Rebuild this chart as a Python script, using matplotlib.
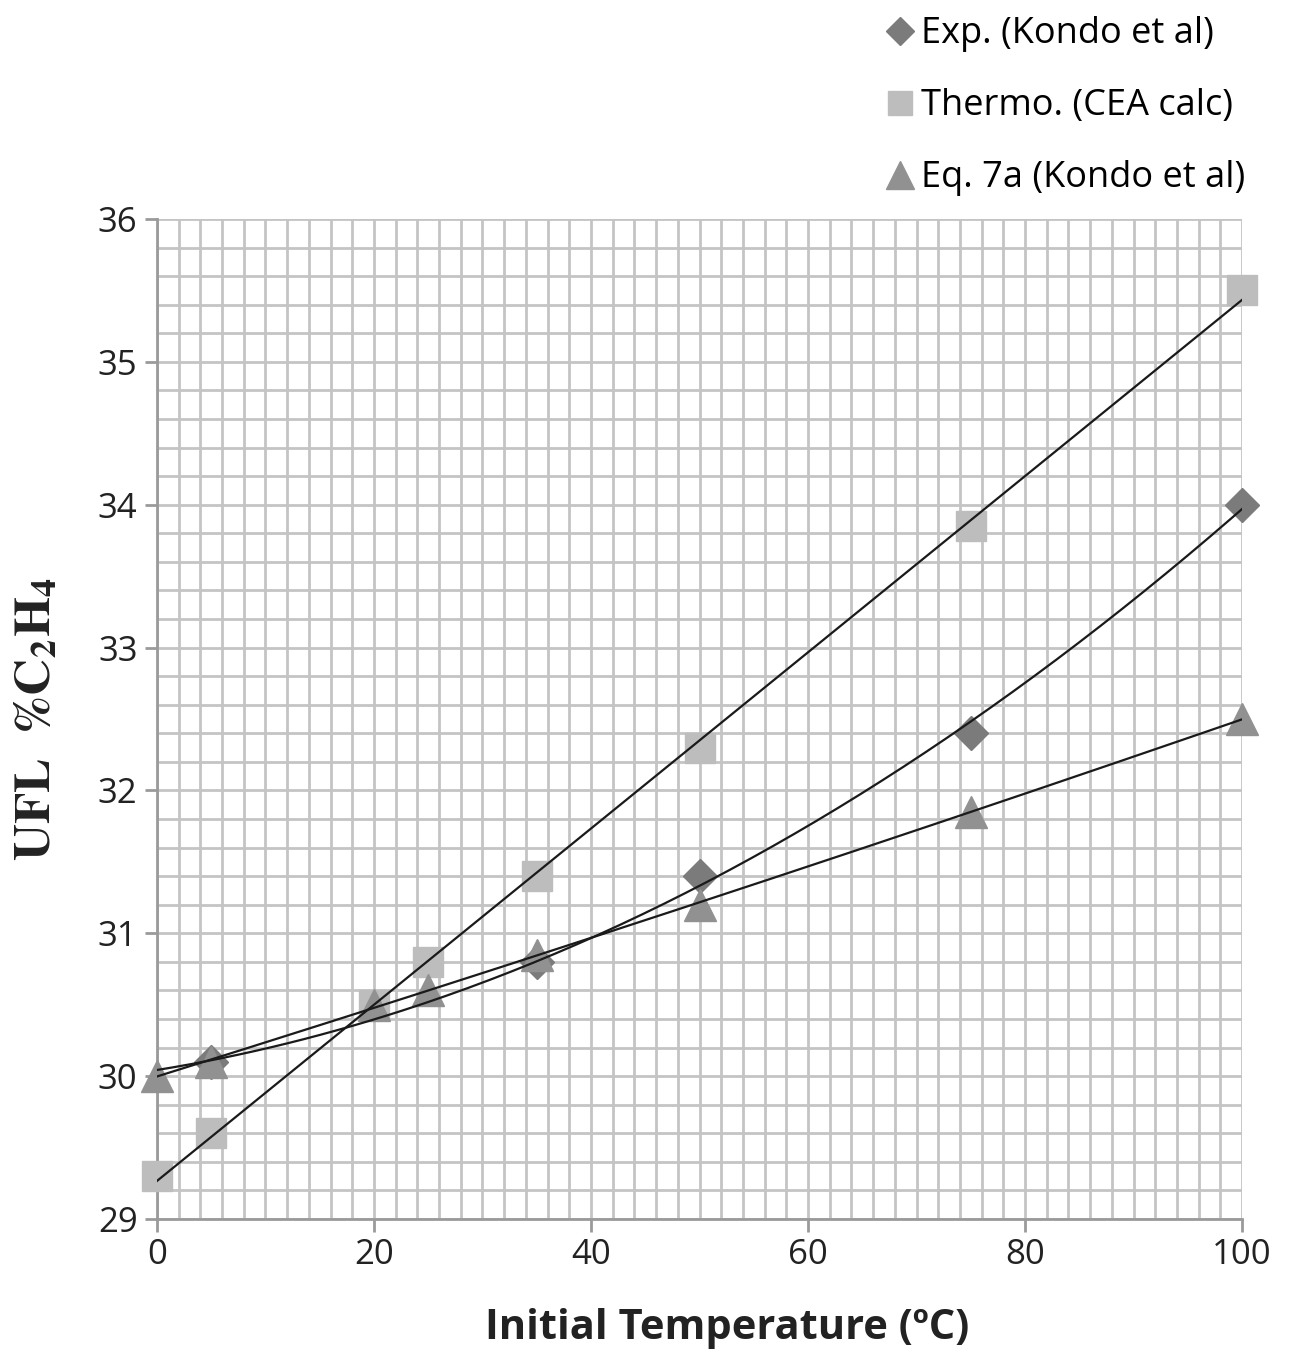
"""UFL of ethylene vs initial temperature (Kondo data, CEA calc, Eq. 7a)."""

import matplotlib

matplotlib.use("Agg")
import matplotlib.pyplot as plt
import numpy as np
from matplotlib.ticker import MultipleLocator

# data
exp_t = [5, 35, 50, 75, 100]
exp_ufl = [30.1, 30.8, 31.4, 32.4, 34.0]

cea_t = [0, 5, 20, 25, 35, 50, 75, 100]
cea_ufl = [29.3, 29.6, 30.5, 30.8, 31.4, 32.3, 33.85, 35.5]

eq7a_t = [0, 5, 20, 25, 35, 50, 75, 100]
eq7a_ufl = [30.0, 30.1, 30.5, 30.6, 30.85, 31.2, 31.85, 32.5]

x_ticks = [0, 20, 40, 60, 80, 100]
y_ticks = [29, 30, 31, 32, 33, 34, 35, 36]

plt.rcParams["font.family"] = ["Open Sans", "DejaVu Sans"]
plt.rcParams["mathtext.fontset"] = "stix"

fig = plt.figure(figsize=(12.93, 13.57), dpi=100)
ax = fig.add_axes([0.1214, 0.1017, 0.8392, 0.7369])

grid_c = "#c4c4c4"
ax.set_xlim(0, 100)
ax.set_ylim(29, 36)
ax.xaxis.set_minor_locator(MultipleLocator(2))
ax.yaxis.set_minor_locator(MultipleLocator(0.2))
ax.set_xticks(x_ticks)
ax.set_yticks(y_ticks)
ax.grid(True, which="both", color=grid_c, linewidth=2.0)
ax.set_axisbelow(True)
for s in ("top", "right"):
    ax.spines[s].set_visible(False)
for s in ("left", "bottom"):
    ax.spines[s].set_color("#9a9a9a")
    ax.spines[s].set_linewidth(2.0)
ax.tick_params(which="major", direction="out", length=9, width=2, color="#9a9a9a",
               labelsize=25, labelcolor="#222222", pad=5)
ax.tick_params(which="minor", length=0)

# markers
ax.plot(cea_t, cea_ufl, "s", ms=21, color="#bdbdbd", clip_on=False, zorder=3,
        label="Thermo. (CEA calc)")
ax.plot(exp_t, exp_ufl, "D", ms=17, color="#7b7b7b", clip_on=False, zorder=4,
        label="Exp. (Kondo et al)")
ax.plot(eq7a_t, eq7a_ufl, "^", ms=23, color="#919191", clip_on=False, zorder=5,
        label="Eq. 7a (Kondo et al)")

# trendlines (linear for CEA, quadratic for the Kondo series)
tt = np.linspace(0, 100, 200)
ax.plot(tt, np.polyval(np.polyfit(cea_t, cea_ufl, 1), tt), color="#1a1a1a", lw=1.6, zorder=6)
ax.plot(tt, np.polyval(np.polyfit(exp_t, exp_ufl, 2), tt), color="#1a1a1a", lw=1.6, zorder=6)
ax.plot(tt, np.polyval(np.polyfit(eq7a_t, eq7a_ufl, 2), tt), color="#1a1a1a", lw=1.6, zorder=6)

h, l = ax.get_legend_handles_labels()
order = [1, 0, 2]
fig.legend([h[i] for i in order], [l[i] for i in order], loc="upper left",
           bbox_to_anchor=(0.661, 1.012), frameon=False, fontsize=26,
           labelspacing=1.0, handlelength=0.7, handletextpad=0.25, markerscale=0.85)

ax.set_xlabel("Initial Temperature (ºC)", fontsize=30, fontweight="bold",
              color="#222222")
ax.xaxis.set_label_coords(0.525, -0.089)
ax.set_ylabel(r"$\mathbf{UFL\ \ \%C_2H_4}$", fontsize=37, color="#222222")
ax.yaxis.set_label_coords(-0.087, 0.5)

fig.savefig("out.png", dpi=100)
